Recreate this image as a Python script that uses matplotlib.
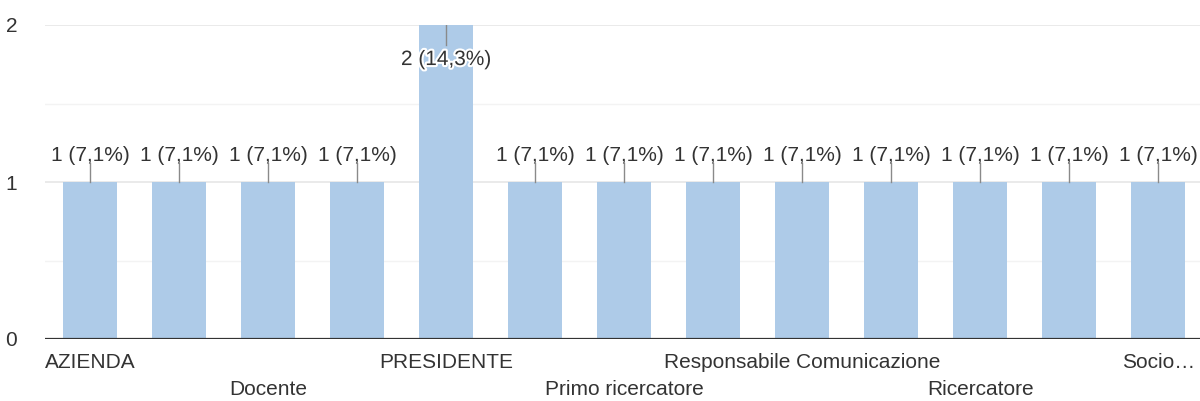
import matplotlib.pyplot as plt
import matplotlib.patheffects as pe

plt.rcParams['font.family'] = ['Liberation Sans', 'DejaVu Sans']

# categories (hidden ones are not readable in the picture)
categories = ["AZIENDA", "", "Docente", "", "PRESIDENTE", "", "Primo ricercatore",
              "", "Responsabile Comunicazione", "", "Ricercatore", "", "Socio…"]
counts = [1, 1, 1, 1, 2, 1, 1, 1, 1, 1, 1, 1, 1]
labels = ["1 (7,1%)", "1 (7,1%)", "1 (7,1%)", "1 (7,1%)", "2 (14,3%)", "1 (7,1%)",
          "1 (7,1%)", "1 (7,1%)", "1 (7,1%)", "1 (7,1%)", "1 (7,1%)", "1 (7,1%)",
          "1 (7,1%)"]

fig = plt.figure(figsize=(12, 4.01), dpi=100)
ax = fig.add_axes([45/1200, 1-339/401, 1155/1200, 314/401])

x = list(range(len(counts)))
ax.bar(x, counts, width=0.61, color='#aecbe8', zorder=2)

ax.set_xlim(-0.506, 12.47)
ax.set_ylim(0, 2)
for yv in [0.5, 1.5]:
    ax.axhline(yv, color='#f3f3f3', lw=1, zorder=1)
for yv in [1, 2]:
    ax.axhline(yv, color='#e6e6e6', lw=1.2, zorder=1)
ax.axhline(0, color='#333333', lw=1.6, zorder=3)

for s in ax.spines.values():
    s.set_visible(False)
ax.set_yticks([0, 1, 2])
ax.set_yticklabels(['0', '1', '2'])
ax.tick_params(axis='y', length=0, pad=20, labelsize=15, labelcolor='#333333')
ax.set_xticks([])

halo = [pe.withStroke(linewidth=3, foreground='white')]
for i, (c, lab) in enumerate(zip(counts, labels)):
    if c >= 2:
        ax.plot([i, i], [c, c - 0.13], color='#8a8a8a', lw=1, zorder=4)
        ax.text(i, c - 0.255, lab, ha='center', va='baseline', fontsize=15,
                color='#333333', zorder=5, path_effects=halo)
    else:
        ax.plot([i, i], [c, c + 0.12], color='#8a8a8a', lw=1, zorder=4)
        ax.text(i, c + 0.135, lab, ha='center', va='baseline', fontsize=15,
                color='#333333', zorder=5)

row = 0
for i, cat in enumerate(categories):
    if cat == "":
        continue
    off = -17 if row % 2 == 0 else -36.5
    ax.annotate(cat, xy=(i, 0), xycoords=('data', 'axes fraction'),
                xytext=(0, off), textcoords='offset points', ha='center',
                va='center', fontsize=15, color='#333333', annotation_clip=False)
    row += 1

fig.savefig('out.png', dpi=100)
